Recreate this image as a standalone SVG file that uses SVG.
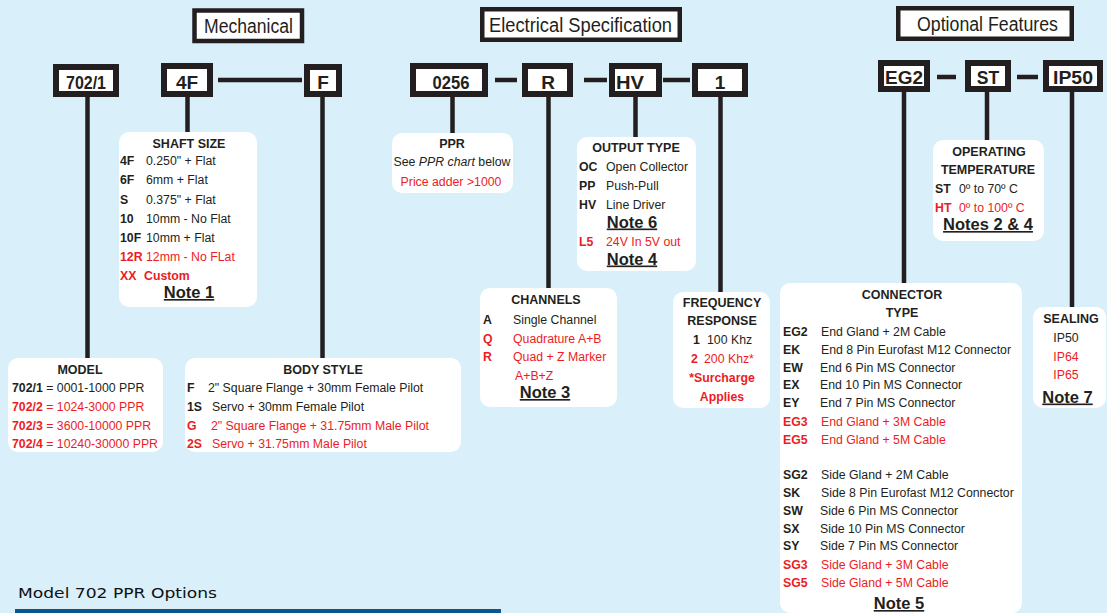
<svg xmlns="http://www.w3.org/2000/svg" width="1107" height="613" viewBox="0 0 1107 613">
<style>
.t{font-family:"Liberation Sans",Arial,Helvetica,sans-serif;fill:#231f20}
.hd{font-size:19.5px}
.cd{font-size:19px;font-weight:bold;text-anchor:middle}
.cd2{font-size:17.5px;font-weight:bold;text-anchor:middle}
.ti{font-size:12.5px;font-weight:bold;text-anchor:middle}
.s{font-size:12.3px}
.b{font-weight:bold}
.r{fill:#ed1c24}
.n{font-size:16.5px;font-weight:bold;text-decoration:underline;text-anchor:middle}
.m{text-anchor:middle}
.hbox{fill:#ffffff;stroke:#231f20;stroke-width:4.5}
.cbox{fill:#ffffff;stroke:#231f20;stroke-width:6}
.ibox{fill:#ffffff}
.ln{stroke:#231f20;stroke-width:4.5;fill:none}
</style>
<rect x="0" y="0" width="1107" height="613" fill="#d9effa"/>

<g id="connectors">
<line class="ln" x1="218" y1="80" x2="302" y2="80"/>
<line class="ln" x1="495" y1="80" x2="517" y2="80"/>
<line class="ln" x1="584" y1="80" x2="607" y2="80"/>
<line class="ln" x1="663" y1="80" x2="690" y2="80"/>
<line class="ln" x1="937" y1="77" x2="956" y2="77"/>
<line class="ln" x1="1017" y1="77" x2="1038" y2="77"/>
<line class="ln" x1="87.5" y1="97" x2="87.5" y2="359"/>
<line class="ln" x1="187.5" y1="97" x2="187.5" y2="133"/>
<line class="ln" x1="322.5" y1="97" x2="322.5" y2="359"/>
<line class="ln" x1="452.5" y1="97" x2="452.5" y2="134"/>
<line class="ln" x1="548.5" y1="97" x2="548.5" y2="289"/>
<line class="ln" x1="635.5" y1="97" x2="635.5" y2="138"/>
<line class="ln" x1="720.5" y1="97" x2="720.5" y2="293"/>
<line class="ln" x1="904" y1="92" x2="904" y2="284"/>
<line class="ln" x1="987" y1="92" x2="987" y2="141"/>
<line class="ln" x1="1072" y1="92" x2="1072" y2="308"/>
</g>

<g id="hdr-mechanical">
<rect class="hbox" x="194.5" y="10.5" width="107.5" height="30.5"/>
<text class="t hd m" x="248.5" y="33" textLength="89" lengthAdjust="spacingAndGlyphs">Mechanical</text>
</g>
<g id="hdr-electrical">
<rect class="hbox" x="482.25" y="9.25" width="197.5" height="30.5"/>
<text class="t hd m" x="580.5" y="32" textLength="183" lengthAdjust="spacingAndGlyphs">Electrical Specification</text>
</g>
<g id="hdr-optional">
<rect class="hbox" x="898.25" y="8.25" width="173.5" height="30.5"/>
<text class="t hd m" x="987.5" y="31" textLength="141" lengthAdjust="spacingAndGlyphs">Optional Features</text>
</g>

<g id="code-7021"><rect class="cbox" x="56" y="67" width="60" height="27"/><text class="t cd" x="86" y="88.5" textLength="40" lengthAdjust="spacingAndGlyphs">702/1</text></g>
<g id="code-4f"><rect class="cbox" x="164" y="66" width="46" height="28"/><text class="t cd" x="187" y="88.5">4F</text></g>
<g id="code-f"><rect class="cbox" x="307" y="67" width="32" height="27"/><text class="t cd" x="323" y="88.5">F</text></g>
<g id="code-0256"><rect class="cbox" x="413" y="66" width="72" height="28"/><text class="t cd" x="451" y="88.5" textLength="37" lengthAdjust="spacingAndGlyphs">0256</text></g>
<g id="code-r"><rect class="cbox" x="525" y="66" width="45" height="28"/><text class="t cd" x="548" y="88.5">R</text></g>
<g id="code-hv"><rect class="cbox" x="612" y="66" width="47" height="28"/><text class="t cd" x="630" y="88.5" textLength="28" lengthAdjust="spacingAndGlyphs">HV</text></g>
<g id="code-1"><rect class="cbox" x="695" y="66" width="50" height="28"/><text class="t cd" x="720" y="88.5">1</text></g>
<g id="code-eg2"><rect class="cbox" x="881" y="63" width="46" height="26"/><text class="t cd2" x="904" y="83.5" textLength="38" lengthAdjust="spacingAndGlyphs">EG2</text></g>
<g id="code-st"><rect class="cbox" x="968" y="63" width="40" height="26"/><text class="t cd2" x="988" y="83.5">ST</text></g>
<g id="code-ip50"><rect class="cbox" x="1046" y="63" width="54" height="26"/><text class="t cd2" x="1073" y="83.5" textLength="40" lengthAdjust="spacingAndGlyphs">IP50</text></g>

<g id="shaft-size">
<rect class="ibox" x="119" y="132" width="138" height="175" rx="10"/>
<text class="t ti" x="189" y="148">SHAFT SIZE</text>
<text class="t s b" x="120" y="165">4F</text><text class="t s" x="146" y="165">0.250" + Flat</text>
<text class="t s b" x="120" y="184">6F</text><text class="t s" x="146" y="184">6mm + Flat</text>
<text class="t s b" x="120" y="203.5">S</text><text class="t s" x="146" y="203.5">0.375" + Flat</text>
<text class="t s b" x="120" y="222.5">10</text><text class="t s" x="146" y="222.5">10mm - No Flat</text>
<text class="t s b" x="120" y="241.5">10F</text><text class="t s" x="146" y="241.5">10mm + Flat</text>
<text class="t s b r" x="120" y="260.5">12R</text><text class="t s r" x="146" y="260.5">12mm - No FLat</text>
<text class="t s b r" x="120" y="280">XX</text><text class="t s b r" x="144" y="280">Custom</text>
<text class="t n" x="189" y="298">Note 1</text>
</g>

<g id="model">
<rect class="ibox" x="8" y="358" width="155" height="94" rx="10"/>
<text class="t ti" x="80" y="374">MODEL</text>
<text class="t s" x="12" y="392"><tspan class="b">702/1</tspan> = 0001-1000 PPR</text>
<text class="t s r" x="12" y="410.5"><tspan class="b">702/2</tspan> = 1024-3000 PPR</text>
<text class="t s r" x="12" y="429.5"><tspan class="b">702/3</tspan> = 3600-10000 PPR</text>
<text class="t s r" x="12" y="448"><tspan class="b">702/4</tspan> = 10240-30000 PPR</text>
</g>

<g id="body-style">
<rect class="ibox" x="185" y="358" width="276" height="94" rx="10"/>
<text class="t ti" x="323" y="374">BODY STYLE</text>
<text class="t s b" x="187" y="392">F</text><text class="t s" x="208" y="392">2" Square Flange + 30mm Female Pilot</text>
<text class="t s b" x="187" y="410.5">1S</text><text class="t s" x="212" y="410.5">Servo + 30mm Female Pilot</text>
<text class="t s b r" x="187" y="429.5">G</text><text class="t s r" x="211" y="429.5">2" Square Flange + 31.75mm Male Pilot</text>
<text class="t s b r" x="187" y="448">2S</text><text class="t s r" x="212" y="448">Servo + 31.75mm Male Pilot</text>
</g>

<g id="ppr">
<rect class="ibox" x="392" y="133" width="121" height="60" rx="10"/>
<text class="t ti" x="452" y="147.5">PPR</text>
<text class="t s m" x="452" y="165.5">See <tspan font-style="italic">PPR chart</tspan> below</text>
<text class="t s m r" x="451" y="185.5">Price adder &gt;1000</text>
</g>

<g id="output-type">
<rect class="ibox" x="577" y="137" width="119" height="134" rx="10"/>
<text class="t ti" x="636" y="151.5">OUTPUT TYPE</text>
<text class="t s b" x="579" y="170.5">OC</text><text class="t s" x="606" y="170.5">Open Collector</text>
<text class="t s b" x="579" y="189.5">PP</text><text class="t s" x="606" y="189.5">Push-Pull</text>
<text class="t s b" x="579" y="208.5">HV</text><text class="t s" x="606" y="208.5">Line Driver</text>
<text class="t n" x="632" y="227.5">Note 6</text>
<text class="t s b r" x="579" y="246">L5</text><text class="t s r" x="606" y="246">24V In 5V out</text>
<text class="t n" x="632" y="264.5">Note 4</text>
</g>

<g id="channels">
<rect class="ibox" x="480" y="288" width="137" height="119" rx="10"/>
<text class="t ti" x="546" y="304">CHANNELS</text>
<text class="t s b" x="483" y="324">A</text><text class="t s" x="513" y="324">Single Channel</text>
<text class="t s b r" x="483" y="342.5">Q</text><text class="t s r" x="513" y="342.5">Quadrature A+B</text>
<text class="t s b r" x="483" y="361">R</text><text class="t s r" x="513" y="361">Quad + Z Marker</text>
<text class="t s r" x="515" y="380">A+B+Z</text>
<text class="t n" x="545" y="398">Note 3</text>
</g>

<g id="frequency">
<rect class="ibox" x="673" y="292" width="97" height="116" rx="10"/>
<text class="t ti" x="722" y="306.5">FREQUENCY</text>
<text class="t ti" x="722" y="325">RESPONSE</text>
<text class="t s b" x="693" y="344">1</text><text class="t s" x="707" y="344">100 Khz</text>
<text class="t s b r" x="691" y="363">2</text><text class="t s r" x="704" y="363">200 Khz*</text>
<text class="t s b r m" x="722" y="382">*Surcharge</text>
<text class="t s b r m" x="722" y="400.5">Applies</text>
</g>

<g id="connector-type">
<rect class="ibox" x="780" y="283" width="242" height="330" rx="10"/>
<text class="t ti" x="902" y="299">CONNECTOR</text>
<text class="t ti" x="902" y="316.5">TYPE</text>
<text class="t s b" x="783" y="335.5">EG2</text><text class="t s" x="821" y="335.5">End Gland + 2M Cable</text>
<text class="t s b" x="783" y="353.5">EK</text><text class="t s" x="821" y="353.5">End 8 Pin Eurofast M12 Connector</text>
<text class="t s b" x="783" y="371.5">EW</text><text class="t s" x="820" y="371.5">End 6 Pin MS Connector</text>
<text class="t s b" x="783" y="389">EX</text><text class="t s" x="820" y="389">End 10 Pin MS Connector</text>
<text class="t s b" x="783" y="407">EY</text><text class="t s" x="820" y="407">End 7 Pin MS Connector</text>
<text class="t s b r" x="783" y="425.5">EG3</text><text class="t s r" x="821" y="425.5">End Gland + 3M Cable</text>
<text class="t s b r" x="783" y="443.5">EG5</text><text class="t s r" x="821" y="443.5">End Gland + 5M Cable</text>
<text class="t s b" x="783" y="479">SG2</text><text class="t s" x="821" y="479">Side Gland + 2M Cable</text>
<text class="t s b" x="783" y="497">SK</text><text class="t s" x="821" y="497">Side 8 Pin Eurofast M12 Connector</text>
<text class="t s b" x="783" y="515">SW</text><text class="t s" x="820" y="515">Side 6 Pin MS Connector</text>
<text class="t s b" x="783" y="532.5">SX</text><text class="t s" x="820" y="532.5">Side 10 Pin MS Connector</text>
<text class="t s b" x="783" y="550">SY</text><text class="t s" x="820" y="550">Side 7 Pin MS Connector</text>
<text class="t s b r" x="783" y="569">SG3</text><text class="t s r" x="821" y="569">Side Gland + 3M Cable</text>
<text class="t s b r" x="783" y="587">SG5</text><text class="t s r" x="821" y="587">Side Gland + 5M Cable</text>
<text class="t n" x="899" y="609">Note 5</text>
</g>

<g id="operating-temperature">
<rect class="ibox" x="933" y="140" width="111" height="101" rx="10"/>
<text class="t ti" x="989" y="156">OPERATING</text>
<text class="t ti" x="988" y="173.5">TEMPERATURE</text>
<text class="t s b" x="935" y="193">ST</text><text class="t s" x="959" y="193">0º to 70º C</text>
<text class="t s b r" x="935" y="212">HT</text><text class="t s r" x="959" y="212">0º to 100º C</text>
<text class="t n" x="988" y="230">Notes 2 &amp; 4</text>
</g>

<g id="sealing">
<rect class="ibox" x="1033" y="307" width="73" height="101" rx="10"/>
<text class="t ti" x="1071" y="322.5">SEALING</text>
<text class="t s m" x="1066" y="341.5">IP50</text>
<text class="t s m r" x="1066" y="360.5">IP64</text>
<text class="t s m r" x="1066" y="379">IP65</text>
<text class="t n" x="1067.5" y="402.5">Note 7</text>
</g>

<g id="footer">
<text x="18" y="598" font-family="'DejaVu Sans',Verdana,sans-serif" font-size="14" fill="#111111" textLength="199" lengthAdjust="spacingAndGlyphs">Model 702 PPR Options</text>
<rect x="15" y="609" width="486" height="4" fill="#0b568c"/>
</g>
</svg>
